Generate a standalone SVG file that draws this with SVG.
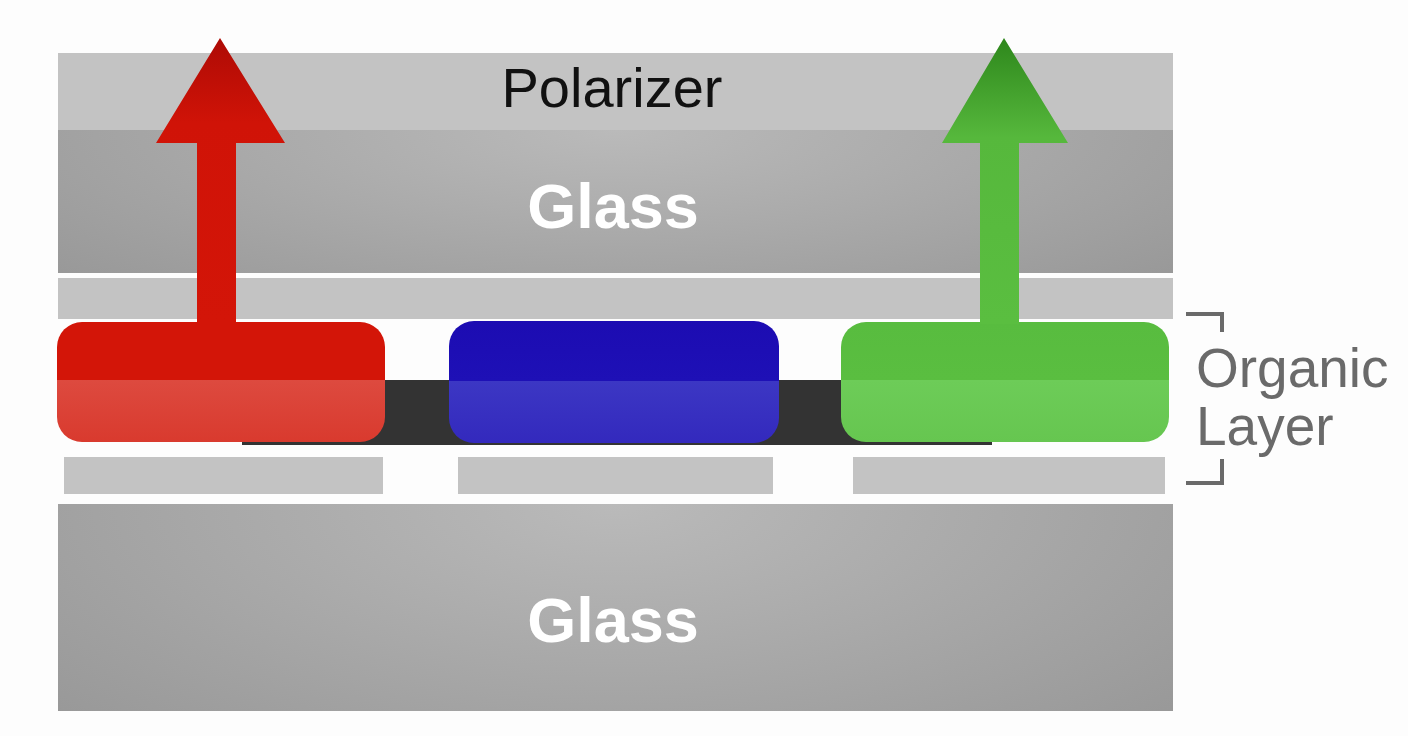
<svg xmlns="http://www.w3.org/2000/svg" width="1408" height="736" viewBox="0 0 1408 736">
<defs>
<style>
.band{fill:#c3c3c3}
.glass{fill:url(#glassG)}
.gl{font-family:"Liberation Sans",Arial,sans-serif;font-weight:bold;font-size:63px;fill:#ffffff;text-anchor:middle}
.lbl{font-family:"Liberation Sans",Arial,sans-serif;font-size:55px;fill:#6a6a6a}
.brk{fill:none;stroke:#6a6a6a;stroke-width:4}
</style>
<radialGradient id="glassG" cx="0.5" cy="0" r="0.75" gradientTransform="translate(0.5 0) scale(1 2.2) translate(-0.5 0)">
<stop offset="0" stop-color="#bababa"/>
<stop offset="1" stop-color="#959595"/>
</radialGradient>
<linearGradient id="redP" x1="0" y1="0" x2="0" y2="1">
<stop offset="0" stop-color="#d31508"/><stop offset="0.483" stop-color="#d31508"/>
<stop offset="0.483" stop-color="#dd4a3f"/><stop offset="1" stop-color="#d93a2e"/>
</linearGradient>
<linearGradient id="blueP" x1="0" y1="0" x2="0" y2="1">
<stop offset="0" stop-color="#1c0cb2"/><stop offset="0.49" stop-color="#1e10b6"/>
<stop offset="0.49" stop-color="#3c37c4"/><stop offset="1" stop-color="#3329bd"/>
</linearGradient>
<linearGradient id="greenP" x1="0" y1="0" x2="0" y2="1">
<stop offset="0" stop-color="#58bc3f"/><stop offset="0.483" stop-color="#5abe40"/>
<stop offset="0.483" stop-color="#6dcc58"/><stop offset="1" stop-color="#66c650"/>
</linearGradient>
<linearGradient id="redA" x1="0" y1="38" x2="0" y2="322" gradientUnits="userSpaceOnUse">
<stop offset="0" stop-color="#ae0b05"/><stop offset="0.3" stop-color="#d01307"/><stop offset="1" stop-color="#d31508"/>
</linearGradient>
<linearGradient id="greenA" x1="0" y1="38" x2="0" y2="322" gradientUnits="userSpaceOnUse">
<stop offset="0" stop-color="#2e871c"/><stop offset="0.35" stop-color="#56b83c"/><stop offset="1" stop-color="#5abe40"/>
</linearGradient>
</defs>
<rect width="1408" height="736" fill="#fdfdfd"/>
<g id="polarizer">
<rect class="band" x="58" y="53" width="1115" height="77"/>
<text x="612" y="107" font-family="'Liberation Sans',Arial,sans-serif" font-size="56" fill="#111111" text-anchor="middle">Polarizer</text>
</g>
<g id="glass-top">
<rect class="glass" x="58" y="130" width="1115" height="143"/>
<text class="gl" x="613" y="228">Glass</text>
</g>
<g id="top-band">
<rect class="band" x="58" y="278" width="1115" height="41"/>
</g>
<g id="dark-bar">
<rect x="242" y="380" width="750" height="65" fill="#333333"/>
</g>
<g id="electrodes">
<rect class="band" x="64" y="457" width="319" height="37"/>
<rect class="band" x="458" y="457" width="315" height="37"/>
<rect class="band" x="853" y="457" width="312" height="37"/>
</g>
<g id="glass-bottom">
<rect class="glass" x="58" y="504" width="1115" height="207"/>
<text class="gl" x="613" y="642">Glass</text>
</g>
<g id="red-pixel">
<rect x="57" y="322" width="328" height="120" rx="25" fill="url(#redP)"/>
<polygon points="220,38 285,143 236,143 236,324 197,324 197,143 156,143" fill="url(#redA)"/>
</g>
<g id="blue-pixel">
<rect x="449" y="321" width="330" height="122" rx="25" fill="url(#blueP)"/>
</g>
<g id="green-pixel">
<rect x="841" y="322" width="328" height="120" rx="25" fill="url(#greenP)"/>
<polygon points="1004,38 1068,143 1019,143 1019,324 980,324 980,143 942,143" fill="url(#greenA)"/>
</g>
<g id="organic-label">
<path class="brk" d="M1186,314 H1222 V332"/>
<path class="brk" d="M1222,459 V483 H1186"/>
<text class="lbl" x="1196" y="387">Organic</text>
<text class="lbl" x="1196" y="445">Layer</text>
</g>
</svg>
